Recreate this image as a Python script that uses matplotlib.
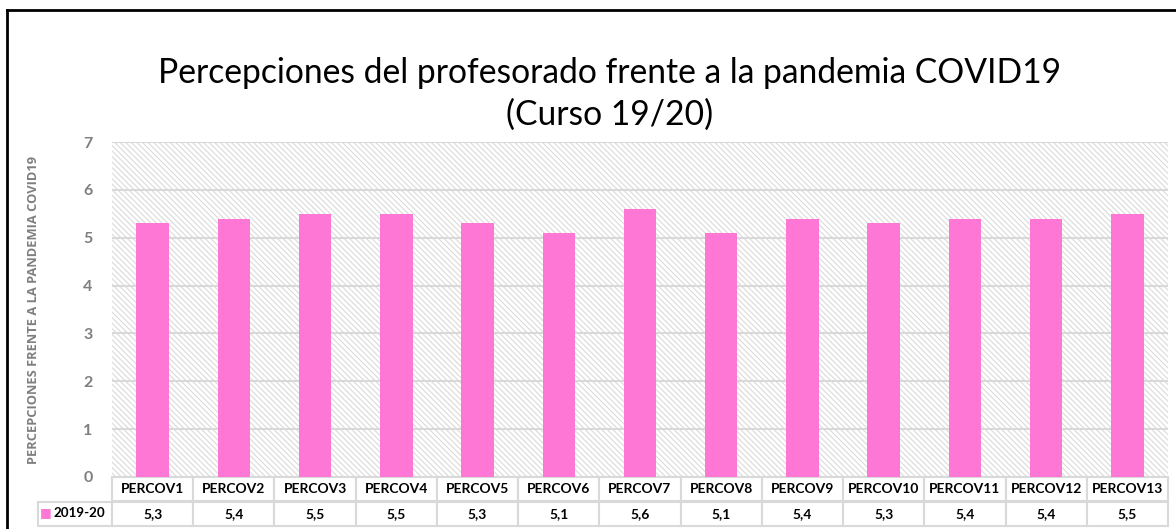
import matplotlib
matplotlib.use('Agg')
import matplotlib.pyplot as plt
from matplotlib.patches import Rectangle
from matplotlib.lines import Line2D

categories = ['PERCOV1', 'PERCOV2', 'PERCOV3', 'PERCOV4', 'PERCOV5', 'PERCOV6', 'PERCOV7',
              'PERCOV8', 'PERCOV9', 'PERCOV10', 'PERCOV11', 'PERCOV12', 'PERCOV13']
series_name = '2019-20'
values = [5.3, 5.4, 5.5, 5.5, 5.3, 5.1, 5.6, 5.1, 5.4, 5.3, 5.4, 5.4, 5.5]
value_labels = ['5,3', '5,4', '5,5', '5,5', '5,3', '5,1', '5,6', '5,1', '5,4', '5,3', '5,4', '5,4', '5,5']

plt.rcParams['font.family'] = ['Lato', 'DejaVu Sans']
pink = '#FF77D5'
grey = '#7f7f7f'
W, H = 1176, 529

fig = plt.figure(figsize=(W / 100, H / 100), dpi=100)
ax = fig.add_axes([112 / W, 1 - 477 / H, (1168 - 112) / W, (477 - 142) / H])

# hatched background of the plot area
ax.set_facecolor('white')
plt.rcParams['hatch.linewidth'] = 0.8
ax.add_patch(Rectangle((0, 0), 1, 1, transform=ax.transAxes, facecolor='white',
                       edgecolor='#dadada', hatch='\\\\\\\\\\\\', linewidth=0, zorder=0))

x = range(len(categories))
ax.bar(x, values, width=0.4, color=pink, zorder=3)
ax.set_xlim(-0.5, len(categories) - 0.5)
ax.set_ylim(0, 7)
ax.set_yticks(range(0, 8))
ax.set_xticks([])
ax.grid(axis='y', color='#d9d9d9', linewidth=1.5, zorder=1)
ax.set_axisbelow(False)
for s in ax.spines.values():
    s.set_visible(False)
ax.tick_params(axis='y', length=0, pad=14, labelsize=11.5, labelcolor=grey)
for t in ax.get_yticklabels():
    t.set_fontweight('bold')

ax.set_ylabel('PERCEPCIONES FRENTE A LA PANDEMIA COVID19', fontsize=9.3, color=grey,
              fontweight='bold', family='Open Sans')
ax.yaxis.set_label_coords(-(112 - 40) / 1056, 0.5)

# data table under the plot
cell_text = [[''] + categories, [''] + value_labels]
first_w = 74 / 1130
col_w = [first_w] + [(1 - first_w) / len(categories)] * len(categories)
tb = ax.table(cellText=cell_text, colWidths=col_w, cellLoc='center',
              bbox=[-74 / 1056, -(526 - 477) / 335, 1130 / 1056, (526 - 477) / 335])
tb.auto_set_font_size(False)
for (r, c), cell in tb.get_celld().items():
    cell.set_edgecolor('#d9d9d9')
    cell.set_linewidth(1.5)
    cell.get_text().set_fontsize(10)
    cell.get_text().set_fontweight('bold')
    if r == 0 and c == 0:
        cell.set_edgecolor('none')
# legend key + series name in the first cell
ax.text(-66 / 1056, -(513 - 477) / 335, '\u25a0', transform=ax.transAxes, color=pink,
        fontsize=9, ha='center', va='center', family='DejaVu Sans')
ax.text(-58 / 1056, -(513 - 477) / 335, series_name, transform=ax.transAxes,
        fontsize=9.6, fontweight='bold', ha='left', va='center')

fig.text(610 / W, 1 - 94 / H, 'Percepciones del profesorado frente a la pandemia COVID19\n(Curso 19/20)',
         ha='center', va='center', fontsize=24.2, linespacing=1.4)

# frame lines
fig.add_artist(Line2D([7 / W, 7 / W], [0, 1 - 10 / H], color='black', linewidth=2))
fig.add_artist(Line2D([7 / W, 1], [1 - 10 / H, 1 - 10 / H], color='black', linewidth=2))

fig.savefig('out.png', dpi=100)
